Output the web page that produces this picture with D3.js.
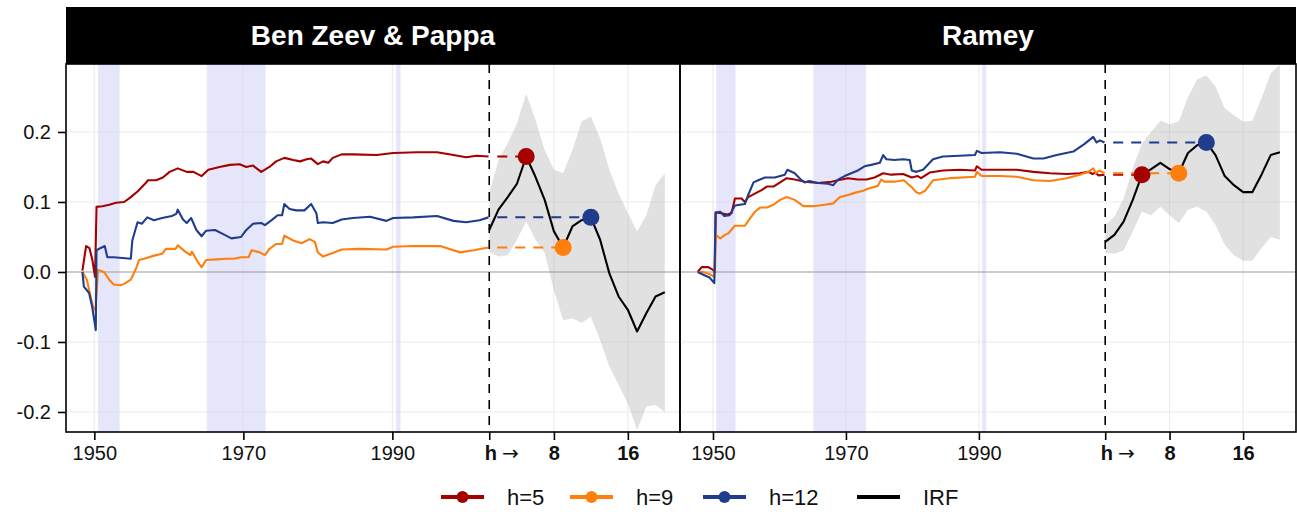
<!DOCTYPE html>
<html>
<head>
<meta charset="utf-8">
<script src="https://cdn.jsdelivr.net/npm/d3@7"></script>
<style>
  body { margin: 0; background: #fff; }
  svg text { font-family: "Liberation Sans", Arial, Helvetica, sans-serif; }
</style>
</head>
<body>
<svg id="chart"></svg>
<script>
const width = 1297;
const height = 514;

// ---- data ----
const yTicks = [-0.2, -0.1, 0, 0.1, 0.2];
const yearTicks = [1950, 1970, 1990];
const hTicks = [8, 16];
const horizons = [1, 2, 3, 4, 5, 6, 7, 8, 9, 10, 11, 12, 13, 14, 15, 16, 17, 18, 19, 20];
const markerH = [5, 9, 12];
const seriesNames = ["h=5", "h=9", "h=12"];
const seriesColors = ["#a40000", "#ff7f0e", "#1f3d8c"];
const warPeriods = [[1950.5, 1953.4], [1965.1, 1973.0], [1990.5, 1991.1]];

// Ben Zeev & Pappa: recursive estimates [year, value]
const bzpH5 = [[1948.4, 0.002], [1948.9, 0.037], [1949.35, 0.034], [1949.74, 0.017], [1950.1, -0.007], [1950.3, 0.093],
  [1951.1, 0.094], [1952.0, 0.096], [1952.9, 0.099], [1954.0, 0.100], [1954.9, 0.107], [1955.8, 0.115], [1956.9, 0.127],
  [1957.2, 0.131], [1958.3, 0.131], [1959.2, 0.135], [1960.1, 0.143], [1961.2, 0.148], [1962.4, 0.143], [1963.3, 0.143],
  [1964.4, 0.137], [1965.3, 0.146], [1966.8, 0.150], [1968.2, 0.153], [1969.5, 0.154], [1970.4, 0.150], [1971.3, 0.152],
  [1972.4, 0.143], [1973.5, 0.150], [1974.4, 0.158], [1975.5, 0.163], [1976.7, 0.160], [1977.6, 0.158], [1978.5, 0.161],
  [1979.1, 0.162], [1980.0, 0.154], [1980.7, 0.158], [1981.4, 0.156], [1982.0, 0.163], [1983.2, 0.168], [1984.7, 0.168],
  [1987.9, 0.167], [1990.1, 0.170], [1993.3, 0.171], [1996.0, 0.171], [1998.2, 0.167], [1999.9, 0.164], [2001.3, 0.166],
  [2002.9, 0.165]];
const bzpH9 = [[1948.4, 0.0], [1949.0, -0.011], [1949.4, -0.030], [1949.8, -0.049], [1950.15, -0.055], [1950.5, 0.003],
  [1951.3, 0.0], [1952.0, -0.011], [1952.6, -0.018], [1953.5, -0.019], [1954.0, -0.017], [1954.9, -0.011], [1955.6, 0.005],
  [1956.0, 0.017], [1956.7, 0.019], [1957.9, 0.023], [1959.1, 0.026], [1959.6, 0.033], [1960.9, 0.033], [1961.2, 0.038],
  [1962.2, 0.029], [1962.9, 0.024], [1963.1, 0.029], [1963.9, 0.014], [1964.4, 0.007], [1965.0, 0.017], [1966.4, 0.018],
  [1967.8, 0.019], [1968.7, 0.019], [1969.7, 0.021], [1970.7, 0.021], [1971.1, 0.031], [1972.2, 0.028], [1972.9, 0.024],
  [1973.5, 0.033], [1974.4, 0.040], [1975.2, 0.040], [1975.5, 0.052], [1976.7, 0.045], [1977.8, 0.041], [1978.9, 0.047],
  [1979.6, 0.043], [1980.0, 0.028], [1980.7, 0.022], [1982.0, 0.027], [1983.2, 0.032], [1985.6, 0.033], [1989.2, 0.032],
  [1990.1, 0.036], [1992.8, 0.037], [1996.4, 0.037], [1999.1, 0.028], [2000.9, 0.031], [2002.9, 0.035]];
const bzpH12 = [[1948.4, 0.0], [1948.6, -0.021], [1949.3, -0.030], [1949.7, -0.049], [1950.2, -0.083], [1950.3, 0.031],
  [1950.8, 0.034], [1951.4, 0.037], [1951.75, 0.021], [1952.6, 0.021], [1954.9, 0.019], [1955.1, 0.045], [1955.8, 0.071],
  [1956.4, 0.069], [1957.1, 0.078], [1958.0, 0.074], [1959.1, 0.077], [1960.4, 0.080], [1961.0, 0.083], [1961.2, 0.089],
  [1961.9, 0.075], [1962.4, 0.070], [1963.0, 0.077], [1963.7, 0.060], [1964.4, 0.051], [1965.0, 0.059], [1966.2, 0.060],
  [1967.3, 0.054], [1968.4, 0.048], [1969.7, 0.050], [1970.4, 0.060], [1971.3, 0.069], [1972.4, 0.070], [1972.9, 0.067],
  [1973.8, 0.074], [1974.6, 0.081], [1975.2, 0.081], [1975.5, 0.097], [1976.2, 0.090], [1977.1, 0.088], [1978.2, 0.088],
  [1979.1, 0.097], [1979.8, 0.084], [1980.0, 0.070], [1980.7, 0.071], [1982.0, 0.070], [1983.2, 0.075], [1984.7, 0.077],
  [1987.0, 0.079], [1989.2, 0.073], [1990.1, 0.077], [1992.8, 0.078], [1996.0, 0.080], [1998.2, 0.073], [1999.9, 0.071],
  [2001.7, 0.074], [2002.9, 0.078]];

// Ben Zeev & Pappa: impulse response, h = 1..20
const bzpIrf = [0.060, 0.089, 0.107, 0.126, 0.165, 0.136, 0.103, 0.058, 0.035, 0.065, 0.074, 0.078, 0.046, -0.002,
  -0.035, -0.054, -0.085, -0.059, -0.035, -0.029];
const bzpHi = [0.112, 0.160, 0.184, 0.212, 0.255, 0.217, 0.174, 0.146, 0.141, 0.174, 0.215, 0.222, 0.191, 0.146,
  0.112, 0.084, 0.058, 0.081, 0.124, 0.141];
const bzpLo = [0.029, 0.022, 0.024, 0.046, 0.072, 0.046, 0.027, -0.026, -0.069, -0.066, -0.073, -0.064, -0.097, -0.135,
  -0.161, -0.188, -0.226, -0.192, -0.190, -0.200];

// Ramey: recursive estimates [year, value]
const rameyH5 = [[1947.7, 0.0], [1948.3, 0.007], [1949.3, 0.007], [1950.0, 0.003], [1950.3, 0.0], [1950.4, 0.085],
  [1951.3, 0.084], [1952.1, 0.082], [1952.8, 0.084], [1953.3, 0.105], [1954.3, 0.105], [1954.8, 0.100], [1955.3, 0.107],
  [1956.3, 0.112], [1957.3, 0.117], [1958.1, 0.122], [1959.1, 0.122], [1960.1, 0.128], [1961.1, 0.134], [1962.3, 0.132],
  [1963.8, 0.129], [1965.8, 0.127], [1967.8, 0.129], [1968.8, 0.131], [1970.3, 0.134], [1971.8, 0.132], [1973.1, 0.132],
  [1974.3, 0.135], [1975.6, 0.141], [1976.8, 0.139], [1978.6, 0.140], [1979.9, 0.135], [1980.8, 0.137], [1981.3, 0.134],
  [1982.6, 0.142], [1984.6, 0.145], [1987.1, 0.146], [1989.4, 0.145], [1989.7, 0.151], [1990.4, 0.146], [1993.2, 0.146],
  [1995.7, 0.146], [1998.2, 0.143], [2000.7, 0.141], [2003.2, 0.140], [2005.2, 0.141], [2006.5, 0.143], [2007.1, 0.140],
  [2007.5, 0.142], [2008.0, 0.138], [2008.9, 0.139]];
const rameyH9 = [[1947.7, 0.0], [1948.5, 0.0], [1949.5, -0.003], [1950.2, -0.007], [1950.4, 0.053], [1951.1, 0.048],
  [1951.8, 0.053], [1952.3, 0.055], [1953.3, 0.066], [1954.8, 0.066], [1955.6, 0.077], [1956.3, 0.086], [1957.1, 0.092],
  [1958.1, 0.092], [1959.1, 0.096], [1960.1, 0.103], [1961.1, 0.107], [1962.3, 0.103], [1963.6, 0.094], [1965.1, 0.094],
  [1966.8, 0.096], [1968.1, 0.098], [1969.1, 0.107], [1970.3, 0.110], [1971.3, 0.113], [1972.6, 0.116], [1973.3, 0.119],
  [1974.8, 0.123], [1975.3, 0.132], [1975.8, 0.129], [1977.3, 0.129], [1978.7, 0.131], [1979.9, 0.121], [1980.6, 0.114],
  [1981.1, 0.112], [1981.9, 0.116], [1983.1, 0.131], [1985.6, 0.134], [1989.4, 0.136], [1989.7, 0.143], [1990.4, 0.137],
  [1993.2, 0.137], [1995.7, 0.136], [1998.2, 0.131], [2000.7, 0.130], [2003.2, 0.134], [2005.2, 0.139], [2006.5, 0.143],
  [2007.2, 0.148], [2007.6, 0.141], [2008.1, 0.145], [2008.9, 0.141]];
const rameyH12 = [[1947.7, 0.0], [1948.8, -0.005], [1949.5, -0.008], [1950.2, -0.016], [1950.4, 0.085], [1951.1, 0.086],
  [1951.7, 0.080], [1952.5, 0.081], [1953.3, 0.095], [1954.8, 0.097], [1955.3, 0.110], [1956.1, 0.128], [1956.8, 0.131],
  [1957.8, 0.135], [1959.3, 0.135], [1960.8, 0.139], [1961.2, 0.146], [1962.3, 0.141], [1963.2, 0.132], [1963.8, 0.128],
  [1964.5, 0.130], [1965.8, 0.127], [1967.3, 0.126], [1968.1, 0.124], [1968.8, 0.132], [1969.8, 0.137], [1970.8, 0.141],
  [1971.8, 0.145], [1972.8, 0.151], [1973.8, 0.153], [1975.1, 0.156], [1975.6, 0.167], [1976.1, 0.161], [1977.3, 0.160],
  [1978.6, 0.161], [1979.6, 0.160], [1979.9, 0.145], [1980.6, 0.143], [1981.6, 0.146], [1983.1, 0.161], [1984.6, 0.165],
  [1987.1, 0.166], [1989.4, 0.167], [1989.7, 0.173], [1990.4, 0.170], [1993.2, 0.171], [1995.7, 0.169], [1998.2, 0.162],
  [1999.7, 0.162], [2001.7, 0.167], [2004.2, 0.172], [2005.9, 0.183], [2007.2, 0.193], [2007.7, 0.185], [2008.2, 0.188],
  [2008.9, 0.185]];

// Ramey: impulse response, h = 1..20
const rameyIrf = [0.043, 0.053, 0.072, 0.103, 0.139, 0.147, 0.156, 0.147, 0.141, 0.170, 0.181, 0.185, 0.167, 0.137,
  0.124, 0.114, 0.114, 0.139, 0.167, 0.171];
const rameyHi = [0.067, 0.079, 0.105, 0.148, 0.184, 0.200, 0.216, 0.211, 0.215, 0.250, 0.275, 0.281, 0.265, 0.234,
  0.224, 0.215, 0.216, 0.248, 0.284, 0.296];
const rameyLo = [0.027, 0.026, 0.031, 0.058, 0.086, 0.081, 0.093, 0.081, 0.070, 0.089, 0.093, 0.086, 0.067, 0.039,
  0.024, 0.016, 0.016, 0.034, 0.050, 0.046];

// ---- layout ----
const panelTop = 64;
const panelBottom = 432;
const stripTop = 7;

const panels = [
  { title: "Ben Zeev & Pappa", x0: 66, x1: 680, domain: [1946.2, 2028.6], tEnd: 2003, hStep: 1.24,
    series: [bzpH5, bzpH9, bzpH12], irf: bzpIrf, lo: bzpLo, hi: bzpHi },
  { title: "Ramey", x0: 680, x1: 1296, domain: [1945.04, 2037.7], tEnd: 2009, hStep: 1.383,
    series: [rameyH5, rameyH9, rameyH12], irf: rameyIrf, lo: rameyLo, hi: rameyHi }
];

const svg = d3.select("#chart").attr("width", width).attr("height", height);
const y = d3.scaleLinear().domain([-0.2286, 0.2971]).range([panelBottom, panelTop]);

const defs = svg.append("defs");

panels.forEach((p, pi) => {
  const x = d3.scaleLinear().domain(p.domain).range([p.x0, p.x1]);
  const hx = (h) => x(p.tEnd + (h - 1) * p.hStep);
  const g = svg.append("g").attr("class", "panel");

  defs.append("clipPath").attr("id", `clip${pi}`)
    .append("rect").attr("x", p.x0).attr("y", panelTop)
    .attr("width", p.x1 - p.x0).attr("height", panelBottom - panelTop);

  const plot = g.append("g").attr("clip-path", `url(#clip${pi})`);

  // grid
  const gridX = [...yearTicks.map(x), ...hTicks.map(hx)];
  plot.append("g").selectAll("line").data(gridX).join("line")
    .attr("x1", (d) => d).attr("x2", (d) => d)
    .attr("y1", panelTop).attr("y2", panelBottom)
    .attr("stroke", "#ebebeb").attr("stroke-width", 1.1);
  plot.append("g").selectAll("line").data(yTicks.filter((d) => d !== 0)).join("line")
    .attr("x1", p.x0).attr("x2", p.x1)
    .attr("y1", (d) => y(d)).attr("y2", (d) => y(d))
    .attr("stroke", "#ebebeb").attr("stroke-width", 1.1);

  // war periods
  plot.append("g").selectAll("rect").data(warPeriods).join("rect")
    .attr("x", (d) => x(d[0])).attr("width", (d) => x(d[1]) - x(d[0]))
    .attr("y", panelTop).attr("height", panelBottom - panelTop)
    .attr("fill", "#d6d6f6").attr("fill-opacity", 0.6);

  // confidence band
  const band = d3.area()
    .x((d) => hx(d))
    .y0((d) => y(p.lo[d - 1]))
    .y1((d) => y(p.hi[d - 1]));
  plot.append("path").datum(horizons).attr("d", band)
    .attr("fill", "#b3b3b3").attr("fill-opacity", 0.4);

  // zero line
  plot.append("line")
    .attr("x1", p.x0).attr("x2", p.x1).attr("y1", y(0)).attr("y2", y(0))
    .attr("stroke", "#9a9a9a").attr("stroke-width", 1.1);

  // recursive estimates
  const line = d3.line().x((d) => x(d[0])).y((d) => y(d[1]));
  p.series.forEach((s, i) => {
    plot.append("path").datum(s).attr("d", line)
      .attr("fill", "none").attr("stroke", seriesColors[i])
      .attr("stroke-width", 2.1).attr("stroke-linejoin", "round");
  });

  // dashed connectors to the IRF at each horizon
  markerH.forEach((h, i) => {
    const v = p.irf[h - 1];
    plot.append("line")
      .attr("x1", x(p.tEnd)).attr("x2", hx(h))
      .attr("y1", y(v)).attr("y2", y(v))
      .attr("stroke", seriesColors[i]).attr("stroke-width", 2)
      .attr("stroke-dasharray", "10,8").attr("stroke-dashoffset", -8);
  });

  // IRF line
  const irfLine = d3.line().x((d) => hx(d)).y((d) => y(p.irf[d - 1]));
  plot.append("path").datum(horizons).attr("d", irfLine)
    .attr("fill", "none").attr("stroke", "#000").attr("stroke-width", 2.1)
    .attr("stroke-linejoin", "round");

  // markers
  plot.append("g").selectAll("circle").data(markerH).join("circle")
    .attr("cx", (h) => hx(h)).attr("cy", (h) => y(p.irf[h - 1]))
    .attr("r", 8.5).attr("fill", (h, i) => seriesColors[i]);

  // vertical dashed divider between history and horizons
  plot.append("line")
    .attr("x1", x(p.tEnd)).attr("x2", x(p.tEnd))
    .attr("y1", panelTop).attr("y2", panelBottom)
    .attr("stroke", "#000").attr("stroke-width", 1.6)
    .attr("stroke-dasharray", "9,7");

  // panel border
  g.append("rect")
    .attr("x", p.x0).attr("y", panelTop)
    .attr("width", p.x1 - p.x0).attr("height", panelBottom - panelTop)
    .attr("fill", "none").attr("stroke", "#000").attr("stroke-width", 1.6);

  // strip
  g.append("rect")
    .attr("x", p.x0).attr("y", stripTop)
    .attr("width", p.x1 - p.x0).attr("height", panelTop - stripTop)
    .attr("fill", "#000");
  g.append("text")
    .attr("x", (p.x0 + p.x1) / 2).attr("y", 45)
    .attr("text-anchor", "middle")
    .attr("fill", "#fff").attr("font-weight", "bold").attr("font-size", 28)
    .text(p.title);

  // x axis
  const tickVals = [...yearTicks, p.tEnd, ...hTicks.map((h) => p.tEnd + (h - 1) * p.hStep)];
  const tickLabels = [...yearTicks.map(String), "h", ...hTicks.map(String)];
  const xAxis = g.append("g")
    .attr("transform", `translate(0,${panelBottom})`)
    .call(d3.axisBottom(x).tickValues(tickVals).tickSize(8).tickPadding(6)
      .tickFormat((d, i) => tickLabels[i]));
  xAxis.select(".domain").remove();
  xAxis.selectAll(".tick line").attr("stroke", "#000").attr("stroke-width", 1.6);
  xAxis.selectAll(".tick text")
    .attr("fill", "#111").attr("font-size", 20).attr("font-family", null)
    .attr("font-weight", (d, i) => (i >= yearTicks.length ? "bold" : "normal"));
  xAxis.selectAll(".tick text")
    .filter((d, i) => i === yearTicks.length)
    .attr("text-anchor", "start").attr("x", -5)
    .append("tspan").attr("font-weight", "normal")
    .attr("font-family", "'DejaVu Sans', sans-serif").attr("font-size", 20)
    .attr("dx", 5).text("\u2192");

  // y axis (left panel only)
  if (pi === 0) {
    const yAxis = g.append("g")
      .attr("transform", `translate(${p.x0},0)`)
      .call(d3.axisLeft(y).tickValues(yTicks).tickSize(8).tickPadding(7)
        .tickFormat((d) => d.toFixed(1)));
    yAxis.select(".domain").remove();
    yAxis.selectAll(".tick line").attr("stroke", "#000").attr("stroke-width", 1.6);
    yAxis.selectAll(".tick text").attr("fill", "#111").attr("font-size", 20).attr("font-family", null);
  }
});

// legend
const legendItems = [...seriesNames, "IRF"];
const legendColors = [...seriesColors, "#000"];
const legendStart = [441, 570, 703, 857];
const legendY = 497;
const legend = svg.append("g").attr("class", "legend");
legendItems.forEach((name, i) => {
  const lg = legend.append("g").attr("transform", `translate(${legendStart[i]},${legendY})`);
  lg.append("line").attr("x1", 0).attr("x2", 43).attr("y1", 0).attr("y2", 0)
    .attr("stroke", legendColors[i]).attr("stroke-width", 4);
  if (i < seriesNames.length) {
    lg.append("circle").attr("cx", 21.5).attr("cy", 0).attr("r", 6).attr("fill", legendColors[i]);
  }
  lg.append("text").attr("x", 66).attr("y", 0).attr("dy", "0.36em")
    .attr("font-size", 22).attr("fill", "#111").text(name);
});
</script>
</body>
</html>
